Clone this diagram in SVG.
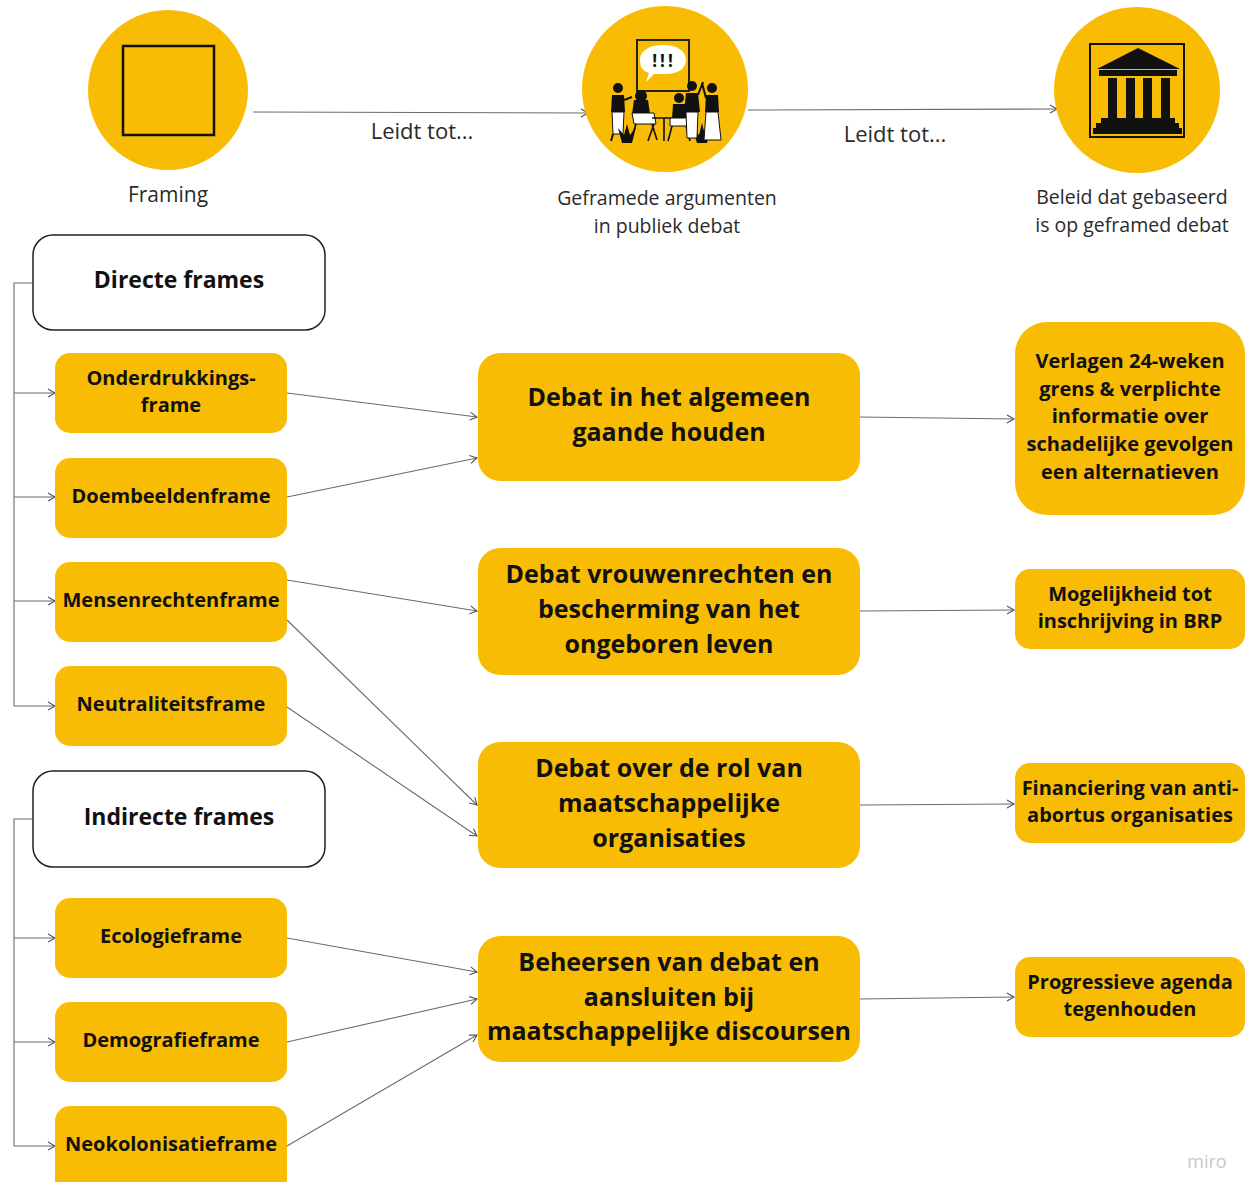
<svg xmlns="http://www.w3.org/2000/svg" width="1247" height="1182" viewBox="0 0 1247 1182">
<defs>
<style>
.circ{fill:#F9BC05}
.box{fill:#F9BC05}
.hdr{fill:#fff;stroke:#222;stroke-width:1.5}
.t{font-family:"Open Sans","Noto Sans","Liberation Sans",sans-serif;fill:#111;text-anchor:middle;font-weight:700}
.cap{font-family:"Open Sans","Noto Sans","Liberation Sans",sans-serif;fill:#2a2a2a;text-anchor:middle;font-weight:400}
.c{fill:none;stroke:#6b6b6b;stroke-width:1.1}
.ink{fill:#111}
.wh{fill:#fff}
</style>
<marker id="arr" markerUnits="userSpaceOnUse" markerWidth="12" markerHeight="12" refX="8" refY="5" orient="auto">
<path d="M1,1 L8,5 L1,9" fill="none" stroke="#555" stroke-width="1.1"/>
</marker>
</defs>
<rect width="1247" height="1182" fill="#fff"/>

<g id="connectors">
<path class="c" d="M253,112 L588,113" marker-end="url(#arr)"/>
<path class="c" d="M748,110 L1057,109" marker-end="url(#arr)"/>
<path class="c" d="M33,283 H14 V706"/>
<path class="c" d="M14,393 H55" marker-end="url(#arr)"/>
<path class="c" d="M14,497 H55" marker-end="url(#arr)"/>
<path class="c" d="M14,601 H55" marker-end="url(#arr)"/>
<path class="c" d="M14,706 H55" marker-end="url(#arr)"/>
<path class="c" d="M33,819 H14 V1146"/>
<path class="c" d="M14,938 H55" marker-end="url(#arr)"/>
<path class="c" d="M14,1042 H55" marker-end="url(#arr)"/>
<path class="c" d="M14,1146 H55" marker-end="url(#arr)"/>
<path class="c" d="M287,393 L477,417" marker-end="url(#arr)"/>
<path class="c" d="M287,497 L477,458" marker-end="url(#arr)"/>
<path class="c" d="M287,580 L477,611" marker-end="url(#arr)"/>
<path class="c" d="M287,620 L477,805" marker-end="url(#arr)"/>
<path class="c" d="M287,707 L477,836" marker-end="url(#arr)"/>
<path class="c" d="M287,938 L477,972" marker-end="url(#arr)"/>
<path class="c" d="M287,1042 L477,999" marker-end="url(#arr)"/>
<path class="c" d="M287,1146 L477,1035" marker-end="url(#arr)"/>
<path class="c" d="M860,417 L1014,419" marker-end="url(#arr)"/>
<path class="c" d="M860,611 L1014,610" marker-end="url(#arr)"/>
<path class="c" d="M860,805 L1014,804" marker-end="url(#arr)"/>
<path class="c" d="M860,999 L1014,997" marker-end="url(#arr)"/>
</g>

<g id="framing">
<circle class="circ" cx="168" cy="90" r="80"/>
<rect x="123" y="46" width="91" height="89" fill="none" stroke="#111" stroke-width="2.5"/>
<text class="cap" x="168" y="202" font-size="21">Framing</text>
</g>

<text class="cap" x="422" y="139" font-size="22">Leidt tot...</text>
<text class="cap" x="895" y="142" font-size="22">Leidt tot...</text>

<g id="geframede">
<circle class="circ" cx="665" cy="89" r="83"/>
<rect x="637" y="40" width="52" height="51" fill="none" stroke="#222" stroke-width="2"/>
<path class="wh" d="M663,45 C677,45 686,51 686,60 C686,69 677,74 666,74 L654,74 L646,82 L649,73 C642,71 640,66 640,60 C640,51 649,45 663,45 Z"/>
<text x="664" y="67" font-family="'Open Sans','Liberation Sans',sans-serif" font-weight="700" font-size="17" letter-spacing="3" fill="#111" text-anchor="middle">!!!</text>
<circle class="ink" cx="618" cy="88" r="5"/>
<path class="ink" d="M612,95 L624,95 L625,112 L611,112 Z"/>
<path class="wh" stroke="#111" stroke-width="1" d="M612,112 L624,112 L623,134 L613,134 Z"/>
<path stroke="#111" stroke-width="2" d="M613,134 L611,141 M622,134 L624,141 M624,100 L632,97"/>
<circle class="ink" cx="641" cy="96" r="6"/>
<path class="ink" d="M634,100 L648,100 L650,114 L632,114 Z"/>
<path class="wh" stroke="#111" stroke-width="1" d="M632,113 L654,113 L656,124 L634,124 Z"/>
<path stroke="#111" stroke-width="1.6" fill="none" d="M636,124 L631,140 M652,124 L657,140 M654,124 L648,141"/>
<path stroke="#111" stroke-width="1.6" fill="none" d="M652,118 L676,118 M664,118 L664,141"/>
<circle class="ink" cx="679" cy="98" r="5"/>
<path class="ink" d="M673,104 L686,104 L687,119 L672,119 Z"/>
<path class="wh" stroke="#111" stroke-width="1" d="M670,118 L688,118 L688,126 L670,126 Z"/>
<path stroke="#111" stroke-width="1.6" fill="none" d="M672,126 L668,141 M686,126 L690,141"/>
<path class="ink" d="M622,143 L618,128 L624,135 L627,124 L630,135 L636,127 L632,143 Z"/>
<path class="ink" d="M697,143 L692,128 L699,135 L702,123 L705,135 L711,128 L707,143 Z"/>
<circle class="ink" cx="692" cy="86" r="5"/>
<path class="ink" d="M686,93 L698,93 L700,112 L684,112 Z"/>
<path class="wh" stroke="#111" stroke-width="1" d="M686,112 L698,112 L697,138 L687,138 Z"/>
<path stroke="#111" stroke-width="2" fill="none" d="M698,95 L703,82"/>
<circle class="ink" cx="712" cy="88" r="5"/>
<path class="ink" d="M706,95 L718,95 L719,112 L705,112 Z"/>
<path class="wh" stroke="#111" stroke-width="1" d="M706,112 L718,112 L721,140 L704,140 Z"/>
<path stroke="#111" stroke-width="2" fill="none" d="M706,98 L702,83"/>
<text class="cap" x="667" y="205" font-size="19.5">Geframede argumenten</text>
<text class="cap" x="667" y="233" font-size="19.5">in publiek debat</text>
</g>

<g id="beleid">
<circle class="circ" cx="1137" cy="90" r="83"/>
<rect x="1090" y="44" width="94" height="93" fill="none" stroke="#111" stroke-width="2"/>
<path class="ink" d="M1138,48 L1180,69 L1097,69 Z"/>
<rect class="ink" x="1099" y="70" width="78" height="6"/>
<rect class="ink" x="1108" y="78" width="9" height="40"/>
<rect class="ink" x="1126" y="78" width="9" height="40"/>
<rect class="ink" x="1143" y="78" width="9" height="40"/>
<rect class="ink" x="1161" y="78" width="9" height="40"/>
<path class="ink" d="M1101,118 L1175,118 L1175,123 L1179,123 L1179,128 L1182,128 L1182,134 L1093,134 L1093,128 L1096,128 L1096,123 L1101,123 Z"/>
<text class="cap" x="1132" y="204" font-size="19.5">Beleid dat gebaseerd</text>
<text class="cap" x="1132" y="232" font-size="19.5">is op geframed debat</text>
</g>

<g id="directe-frames">
<rect class="hdr" x="33" y="235" width="292" height="95" rx="20"/>
<text class="t" x="179" y="288" font-size="23">Directe frames</text>
</g>
<g id="onderdrukkingsframe">
<rect class="box" x="55" y="353" width="232" height="80" rx="15"/>
<text class="t" x="171" y="385" font-size="20">Onderdrukkings-</text>
<text class="t" x="171" y="412" font-size="20">frame</text>
</g>
<g id="doembeeldenframe">
<rect class="box" x="55" y="458" width="232" height="80" rx="15"/>
<text class="t" x="171" y="503" font-size="20">Doembeeldenframe</text>
</g>
<g id="mensenrechtenframe">
<rect class="box" x="55" y="562" width="232" height="80" rx="15"/>
<text class="t" x="171" y="607" font-size="20">Mensenrechtenframe</text>
</g>
<g id="neutraliteitsframe">
<rect class="box" x="55" y="666" width="232" height="80" rx="15"/>
<text class="t" x="171" y="711" font-size="20">Neutraliteitsframe</text>
</g>

<g id="indirecte-frames">
<rect class="hdr" x="33" y="771" width="292" height="96" rx="20"/>
<text class="t" x="179" y="825" font-size="23">Indirecte frames</text>
</g>
<g id="ecologieframe">
<rect class="box" x="55" y="898" width="232" height="80" rx="15"/>
<text class="t" x="171" y="943" font-size="20">Ecologieframe</text>
</g>
<g id="demografieframe">
<rect class="box" x="55" y="1002" width="232" height="80" rx="15"/>
<text class="t" x="171" y="1047" font-size="20">Demografieframe</text>
</g>
<g id="neokolonisatieframe">
<rect class="box" x="55" y="1106" width="232" height="90" rx="15"/>
<text class="t" x="171" y="1151" font-size="20">Neokolonisatieframe</text>
</g>

<g id="debat-algemeen">
<rect class="box" x="478" y="353" width="382" height="128" rx="22"/>
<text class="t" x="669" y="406" font-size="25">Debat in het algemeen</text>
<text class="t" x="669" y="441" font-size="25">gaande houden</text>
</g>
<g id="debat-vrouwenrechten">
<rect class="box" x="478" y="548" width="382" height="127" rx="22"/>
<text class="t" x="669" y="583" font-size="25">Debat vrouwenrechten en</text>
<text class="t" x="669" y="618" font-size="25">bescherming van het</text>
<text class="t" x="669" y="653" font-size="25">ongeboren leven</text>
</g>
<g id="debat-rol">
<rect class="box" x="478" y="742" width="382" height="126" rx="22"/>
<text class="t" x="669" y="777" font-size="25">Debat over de rol van</text>
<text class="t" x="669" y="812" font-size="25">maatschappelijke</text>
<text class="t" x="669" y="847" font-size="25">organisaties</text>
</g>
<g id="beheersen">
<rect class="box" x="478" y="936" width="382" height="126" rx="22"/>
<text class="t" x="669" y="971" font-size="25">Beheersen van debat en</text>
<text class="t" x="669" y="1006" font-size="25">aansluiten bij</text>
<text class="t" x="669" y="1040" font-size="25">maatschappelijke discoursen</text>
</g>

<g id="verlagen">
<rect class="box" x="1015" y="322" width="230" height="193" rx="32"/>
<text class="t" x="1130" y="368" font-size="20">Verlagen 24-weken</text>
<text class="t" x="1130" y="396" font-size="20">grens &amp; verplichte</text>
<text class="t" x="1130" y="423" font-size="20">informatie over</text>
<text class="t" x="1130" y="451" font-size="20">schadelijke gevolgen</text>
<text class="t" x="1130" y="479" font-size="20">een alternatieven</text>
</g>
<g id="mogelijkheid">
<rect class="box" x="1015" y="569" width="230" height="80" rx="15"/>
<text class="t" x="1130" y="601" font-size="20">Mogelijkheid tot</text>
<text class="t" x="1130" y="628" font-size="20">inschrijving in BRP</text>
</g>
<g id="financiering">
<rect class="box" x="1015" y="763" width="230" height="80" rx="15"/>
<text class="t" x="1130" y="795" font-size="20">Financiering van anti-</text>
<text class="t" x="1130" y="822" font-size="20">abortus organisaties</text>
</g>
<g id="progressieve">
<rect class="box" x="1015" y="957" width="230" height="80" rx="15"/>
<text class="t" x="1130" y="989" font-size="20">Progressieve agenda</text>
<text class="t" x="1130" y="1016" font-size="20">tegenhouden</text>
</g>

<text x="1207" y="1168" font-family="'Open Sans','Liberation Sans',sans-serif" font-size="18" fill="#c8c8c8" text-anchor="middle">miro</text>
</svg>
